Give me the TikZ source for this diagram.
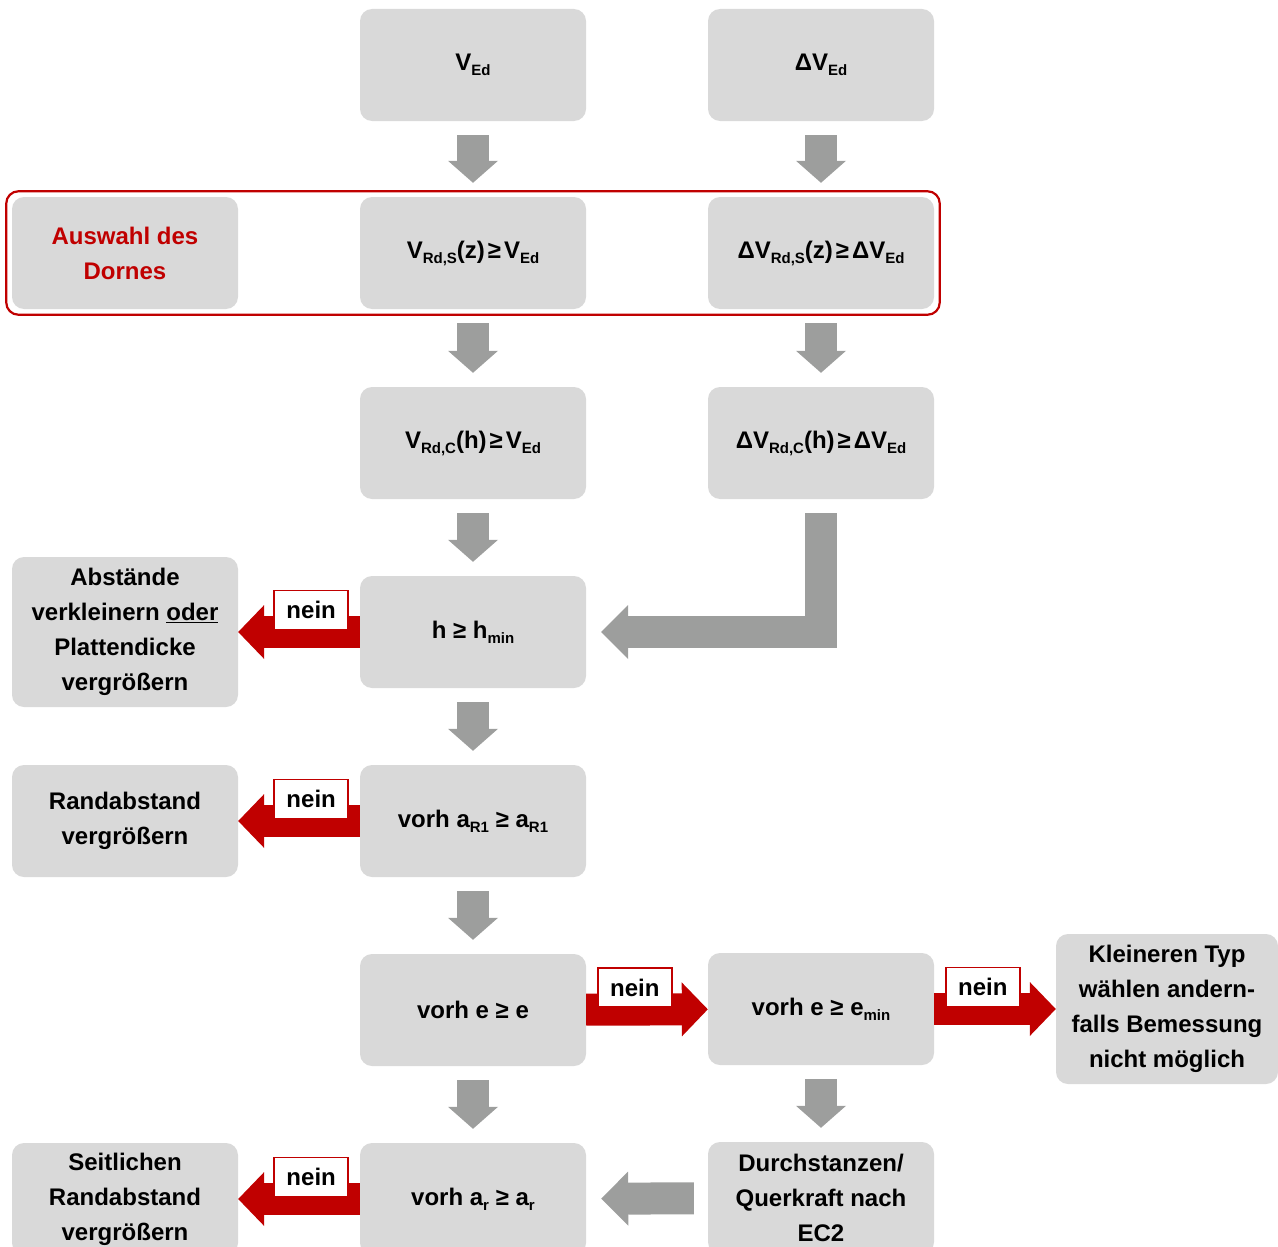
\documentclass[tikz,border=0pt]{standalone}
\usepackage{fontspec}
\setmainfont{Liberation Sans}
\usetikzlibrary{arrows.meta,fit}

\definecolor{boxgray}{RGB}{217,217,217}
\definecolor{arrgray}{RGB}{157,158,157}
\definecolor{dred}{RGB}{192,0,0}

\newcommand{\sbs}[1]{\raisebox{-5pt}{\fontsize{15}{15}\selectfont #1}}
\newcommand{\thinge}{\hspace{3pt}≥\hspace{3pt}}

\tikzset{
  box/.style={rectangle,rounded corners=12pt,fill=boxgray,minimum width=226pt,minimum height=112pt,
    inner sep=0pt,align=center,font=\bfseries\fontsize{24}{35}\selectfont},
  tallbox/.style={box,minimum height=150pt},
  grayarr/.style={draw=arrgray,line width=32pt,-{Triangle[length=22pt,width=50pt,line width=0pt]},
    shorten <=14pt,shorten >=14pt},
  grayarrh/.style={draw=arrgray,line width=32pt,-{Triangle[length=27pt,width=54pt,line width=0pt]}},
  redarr/.style={draw=dred,line width=32pt,-{Triangle[length=26pt,width=54pt,line width=0pt]}},
  neinbox/.style={draw=dred,line width=1.5pt,fill=white,minimum width=74pt,minimum height=39pt,
    inner sep=0pt,font=\bfseries\fontsize{24}{24}\selectfont},
  redframe/.style={draw=dred,line width=2.2pt,rounded corners=12pt,inner sep=5.5pt}
}

\begin{document}
\begin{tikzpicture}[x=1pt,y=-1pt]
    \useasboundingbox (0,0) rectangle (1278,1247);
    \clip (0,0) rectangle (1278,1247);

    % upper part
    \node[box] (ved)   at (473,65)  {V\sbs{Ed}};
    \node[box] (dved)  at (821,65)  {ΔV\sbs{Ed}};
    \node[box,text=dred] (auswahl) at (125,253) {Auswahl des\\Dornes};
    \node[box] (vrds)  at (473,253) {V\sbs{Rd,S}(z)\thinge V\sbs{Ed}};
    \node[box] (dvrds) at (821,253) {ΔV\sbs{Rd,S}(z)\thinge ΔV\sbs{Ed}};
    \node[box] (vrdc)  at (473,443) {V\sbs{Rd,C}(h)\thinge V\sbs{Ed}};
    \node[box] (dvrdc) at (821,443) {ΔV\sbs{Rd,C}(h)\thinge ΔV\sbs{Ed}};
    \node[redframe,fit=(auswahl)(dvrds)] (frame) {};

    % checks
    \node[box] (hmin)  at (473,632)  {h ≥ h\sbs{min}};
    \node[tallbox] (abst) at (125,632) {Abstände\\verkleinern \underline{oder}\\Plattendicke\\vergrößern};
    \node[box] (ar1)   at (473,821)  {vorh a\sbs{R1} ≥ a\sbs{R1}};
    \node[box] (rand)  at (125,821)  {Randabstand\\vergrößern};
    \node[box] (ee)    at (473,1010) {vorh e ≥ e};
    \node[box] (emin)  at (821,1009) {vorh e ≥ e\sbs{min}};
    \node[tallbox,minimum width=222pt] (typ) at (1167,1009) {Kleineren Typ\\wählen andern-\\falls Bemessung\\nicht möglich};
    \node[box] (ar)    at (473,1199) {vorh a\sbs{r} ≥ a\sbs{r}};
    \node[box] (seit)  at (125,1199) {Seitlichen\\Randabstand\\vergrößern};
    \node[box] (ec2)   at (821,1198) {Durchstanzen/\\Querkraft nach\\EC2};

    \foreach \from/\to in {ved/vrds,dved/dvrds,vrds/vrdc,dvrds/dvrdc,vrdc/hmin,hmin/ar1,ar1/ee,ee/ar,emin/ec2}
    \draw[grayarr] (\from) -- (\to);

    \draw[grayarrh,shorten <=14pt,shorten >=15pt] (dvrdc.south) |- (hmin.east);
    \draw[grayarrh,shorten <=14pt,shorten >=15pt] (ec2) -- (ar);

    % nein branches
    \foreach \from/\to in {hmin/abst,ar1/rand,ar/seit,ee/emin,emin/typ}
    \draw[redarr] (\from) -- (\to) node[neinbox,pos=0.4,yshift=22pt] {nein};
\end{tikzpicture}
\end{document}
